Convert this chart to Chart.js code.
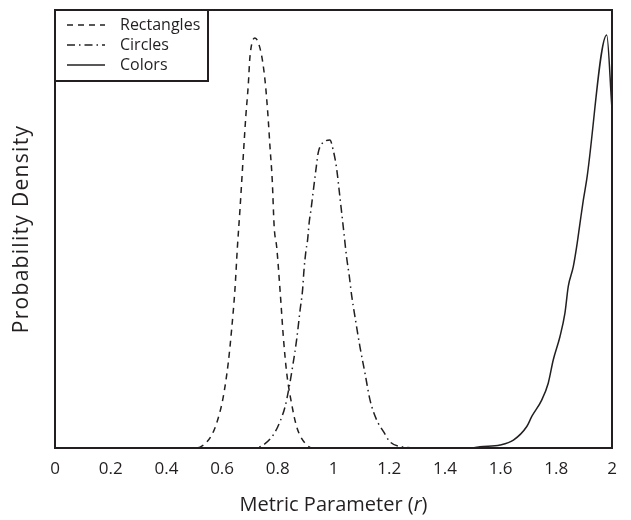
<!DOCTYPE html>
<html lang="en">
<head>
    <meta charset="UTF-8">
    <title>Probability Density</title>
    <style>
        body {
            margin: 0;
            background: #fff;
        }
        #chart {
            display: block;
        }
    </style>
    <script src="https://cdn.jsdelivr.net/npm/chart.js"></script>
</head>
<body>
    <canvas id="chart" width="631" height="520"></canvas>
    <script>
        // values
        const rectX = [0, 0.50, 0.521, 0.563, 0.584, 0.604, 0.622, 0.634, 0.646, 0.655, 0.664, 0.673, 0.678, 0.685, 0.694, 0.700, 0.718, 0.740, 0.754, 0.764, 0.772, 0.780, 0.787, 0.796, 0.808, 0.820, 0.832, 0.847, 0.868, 0.898, 0.926, 2];
        const rectY = [0, 0, 0.002, 0.030, 0.064, 0.116, 0.194, 0.269, 0.361, 0.459, 0.543, 0.635, 0.687, 0.756, 0.829, 0.893, 0.936, 0.902, 0.840, 0.765, 0.687, 0.612, 0.505, 0.459, 0.361, 0.253, 0.171, 0.110, 0.048, 0.011, 0, 0];

        const circX = [0, 0.706, 0.748, 0.784, 0.805, 0.826, 0.841, 0.853, 0.868, 0.880, 0.889, 0.894, 0.901, 0.907, 0.913, 0.919, 0.927, 0.940, 0.945, 0.952, 0.987, 0.999, 1.011, 1.023, 1.035, 1.047, 1.057, 1.065, 1.077, 1.095, 1.113, 1.131, 1.155, 1.179, 1.203, 1.245, 1.31, 2];
        const circY = [0, 0, 0.007, 0.030, 0.056, 0.094, 0.140, 0.185, 0.249, 0.315, 0.361, 0.406, 0.450, 0.475, 0.517, 0.543, 0.585, 0.651, 0.674, 0.688, 0.703, 0.680, 0.639, 0.573, 0.505, 0.436, 0.391, 0.349, 0.300, 0.231, 0.171, 0.110, 0.064, 0.038, 0.014, 0.003, 0, 0];

        const colorX = [0, 1.497, 1.526, 1.598, 1.646, 1.694, 1.712, 1.748, 1.771, 1.789, 1.813, 1.831, 1.843, 1.861, 1.873, 1.885, 1.897, 1.909, 1.981, 1.999];
        const colorY = [0, 0, 0.003, 0.007, 0.018, 0.049, 0.072, 0.110, 0.148, 0.201, 0.254, 0.308, 0.369, 0.414, 0.459, 0.513, 0.566, 0.612, 0.943, 0.783];

        const seriesNames = ['Rectangles', 'Circles', 'Colors'];
        const xTicks = [0, 0.2, 0.4, 0.6, 0.8, 1, 1.2, 1.4, 1.6, 1.8, 2];
        const xTickLabels = ['0', '0.2', '0.4', '0.6', '0.8', '1', '1.2', '1.4', '1.6', '1.8', '2'];

        const ink = '#231f20';
        const fontFamily = '"Open Sans", sans-serif';

        function toPoints(xs, ys) {
            return xs.map((x, i) => ({ x: x, y: ys[i] }));
        }

        // legend box sitting in the top left corner of the plot
        const legendBox = {
            id: 'legendBox',
            afterDraw(chart) {
                const ctx = chart.ctx;
                const area = chart.chartArea;
                ctx.save();
                ctx.strokeStyle = ink;
                ctx.lineWidth = 2;
                ctx.strokeRect(area.left, area.top, 153, 71);
                ctx.font = '16px ' + fontFamily;
                ctx.fillStyle = ink;
                ctx.textBaseline = 'middle';
                chart.data.datasets.forEach((ds, i) => {
                    const y = area.top + 15 + i * 20;
                    ctx.lineWidth = ds.borderWidth;
                    ctx.setLineDash(ds.borderDash || []);
                    ctx.beginPath();
                    ctx.moveTo(area.left + 12, y);
                    ctx.lineTo(area.left + 50, y);
                    ctx.stroke();
                    ctx.setLineDash([]);
                    ctx.fillText(ds.label, area.left + 65, y);
                });
                ctx.restore();
            }
        };

        // frame round the plot and the two axis titles
        const frameAndTitles = {
            id: 'frameAndTitles',
            afterDatasetsDraw(chart) {
                const ctx = chart.ctx;
                const area = chart.chartArea;
                ctx.save();
                ctx.strokeStyle = ink;
                ctx.lineWidth = 2;
                ctx.strokeRect(area.left, area.top, area.right - area.left, area.bottom - area.top);

                ctx.fillStyle = ink;
                ctx.textBaseline = 'middle';
                const normal = '20px ' + fontFamily;
                const italic = 'italic 20px ' + fontFamily;
                const parts = [['Metric Parameter (', normal], ['r', italic], [')', normal]];
                let total = 0;
                parts.forEach(p => { ctx.font = p[1]; total += ctx.measureText(p[0]).width; });
                let x = (area.left + area.right) / 2 - total / 2;
                parts.forEach(p => {
                    ctx.font = p[1];
                    ctx.fillText(p[0], x, 505);
                    x += ctx.measureText(p[0]).width;
                });

                ctx.translate(22, (area.top + area.bottom) / 2);
                ctx.rotate(-Math.PI / 2);
                ctx.font = '21px ' + fontFamily;
                ctx.letterSpacing = '1.3px';
                ctx.textAlign = 'center';
                ctx.fillText('Probability Density', 0, 0);
                ctx.restore();
            }
        };

        new Chart(document.getElementById('chart'), {
            type: 'line',
            data: {
                datasets: [
                    {
                        label: seriesNames[0],
                        data: toPoints(rectX, rectY),
                        borderColor: ink,
                        borderWidth: 1.5,
                        borderDash: [6, 5],
                        pointRadius: 0,
                        cubicInterpolationMode: 'monotone'
                    },
                    {
                        label: seriesNames[1],
                        data: toPoints(circX, circY),
                        borderColor: ink,
                        borderWidth: 1.5,
                        borderDash: [8, 4, 1.5, 4],
                        pointRadius: 0,
                        cubicInterpolationMode: 'monotone'
                    },
                    {
                        label: seriesNames[2],
                        data: toPoints(colorX, colorY),
                        borderColor: ink,
                        borderWidth: 1.5,
                        pointRadius: 0,
                        cubicInterpolationMode: 'monotone'
                    }
                ]
            },
            options: {
                responsive: false,
                animation: false,
                layout: {
                    padding: { left: 55, right: 19, top: 10, bottom: 0 }
                },
                plugins: {
                    legend: { display: false },
                    tooltip: { enabled: false }
                },
                scales: {
                    x: {
                        type: 'linear',
                        min: 0,
                        max: 2,
                        afterBuildTicks: axis => {
                            axis.ticks = xTicks.map(v => ({ value: v }));
                        },
                        afterFit: axis => {
                            axis.height = 72;
                        },
                        grid: { display: false, drawTicks: false },
                        border: { display: false },
                        ticks: {
                            padding: 11,
                            color: ink,
                            maxRotation: 0,
                            autoSkip: false,
                            font: { family: fontFamily, size: 17 },
                            callback: (value, index) => xTickLabels[index]
                        }
                    },
                    y: {
                        min: 0,
                        max: 1,
                        afterFit: axis => {
                            axis.width = 0;
                        },
                        grid: { display: false, drawTicks: false },
                        border: { display: false },
                        ticks: { display: false }
                    }
                }
            },
            plugins: [frameAndTitles, legendBox]
        });
    </script>
</body>
</html>
